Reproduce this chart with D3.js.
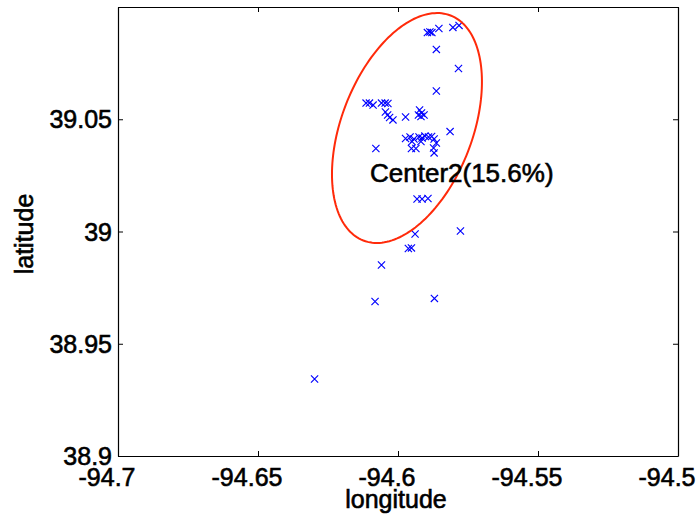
<!DOCTYPE html>
<html>
<head>
<meta charset="utf-8">
<script src="https://cdn.jsdelivr.net/npm/d3@7"></script>
<style>
  html, body { margin: 0; padding: 0; background: #fff; }
  svg text { font-family: "Liberation Sans", Arial, Helvetica, sans-serif; fill: #000; stroke: #000; stroke-width: 0.6px; }
</style>
</head>
<body>
<svg id="chart" width="699" height="520"></svg>
<script>
// Visit locations (longitude, latitude)
const longitudes = [
  -94.5895, -94.5886, -94.5879, -94.5854, -94.5804, -94.5782, -94.5863, -94.5784, -94.5863,
  -94.6114, -94.6102, -94.6089, -94.6059, -94.6046, -94.6036, -94.6045, -94.6037, -94.6030,
  -94.6018, -94.5973, -94.5923, -94.5916, -94.5927, -94.5907, -94.5918, -94.5814, -94.6079,
  -94.5973, -94.5957, -94.5943, -94.5925, -94.5914, -94.5904, -94.5891, -94.5880, -94.5871,
  -94.5863, -94.5873, -94.5871, -94.5950, -94.5918, -94.5952, -94.5936, -94.5932, -94.5914,
  -94.5893, -94.5939, -94.5777, -94.5963, -94.5952, -94.6059, -94.6082, -94.5870, -94.6298
];
const latitudes = [
  39.0886, 39.0889, 39.0886, 39.0904, 39.0909, 39.0918, 39.0811, 39.0726, 39.0626,
  39.0572, 39.0572, 39.0563, 39.0572, 39.0572, 39.0570, 39.0532, 39.0519, 39.0508,
  39.0497, 39.0510, 39.0541, 39.0528, 39.0519, 39.0519, 39.0512, 39.0445, 39.0370,
  39.0414, 39.0421, 39.0412, 39.0421, 39.0416, 39.0425, 39.0421, 39.0423, 39.0412,
  39.0394, 39.0372, 39.0350, 39.0401, 39.0401, 39.0370, 39.0370, 39.0145, 39.0145,
  39.0147, 38.9989, 39.0002, 38.9924, 38.9927, 38.9851, 38.9688, 38.9702, 38.9343
];

// Cluster ellipse: centre and the two semi-axis vectors (degrees)
const ellipseCenter = [-94.5968, 39.0461];
const ellipseAxisMajor = [0.01558, 0.05011];
const ellipseAxisMinor = [-0.02178, 0.01053];

// Cluster annotation
const clusterLabel = "Center2(15.6%)";
const clusterLabelPos = [-94.6100, 39.0220];

// Axes
const xDomain = [-94.7, -94.5];
const yDomain = [38.9, 39.1];
const xTicks = [-94.7, -94.65, -94.6, -94.55, -94.5];
const xTickLabels = ["-94.7", "-94.65", "-94.6", "-94.55", "-94.5"];
const yTicks = [38.9, 38.95, 39, 39.05];
const yTickLabels = ["38.9", "38.95", "39", "39.05"];
const xTitle = "longitude";
const yTitle = "latitude";

const svg = d3.select("#chart");
const plotLeft = 118, plotRight = 678, plotTop = 7, plotBottom = 456;

const x = d3.scaleLinear().domain(xDomain).range([plotLeft, plotRight]);
const y = d3.scaleLinear().domain(yDomain).range([plotBottom, plotTop]);

const points = longitudes.map((lon, i) => ({ lon, lat: latitudes[i] }));

// Points as blue crosses
const s = 3.6;
const marks = svg.append("g")
  .attr("stroke", "#0000ff")
  .attr("stroke-width", 1.15)
  .attr("fill", "none");
marks.selectAll("path")
  .data(points)
  .join("path")
  .attr("d", d => {
    const px = x(d.lon), py = y(d.lat);
    return `M${px - s},${py - s}L${px + s},${py + s}M${px - s},${py + s}L${px + s},${py - s}`;
  });

// Ellipse outline traced in data space
const ellipsePts = d3.range(0, 360, 2).map(deg => {
  const t = deg * Math.PI / 180;
  return [
    ellipseCenter[0] + ellipseAxisMajor[0] * Math.cos(t) + ellipseAxisMinor[0] * Math.sin(t),
    ellipseCenter[1] + ellipseAxisMajor[1] * Math.cos(t) + ellipseAxisMinor[1] * Math.sin(t)
  ];
});
svg.append("path")
  .datum(ellipsePts)
  .attr("fill", "none")
  .attr("stroke", "#ff2a0a")
  .attr("stroke-width", 2)
  .attr("d", d3.line().x(d => x(d[0])).y(d => y(d[1])).curve(d3.curveLinearClosed));

// Annotation
svg.append("text")
  .attr("x", x(clusterLabelPos[0]))
  .attr("y", y(clusterLabelPos[1]))
  .attr("font-size", 26)
  .text(clusterLabel);

// Box with inward ticks on all four sides
const tickLen = 5;
const axisG = svg.append("g");
axisG.append("g")
  .attr("transform", `translate(0,${plotBottom})`)
  .call(d3.axisBottom(x).tickValues(xTicks).tickSizeInner(-tickLen).tickSizeOuter(0).tickFormat(() => ""));
axisG.append("g")
  .attr("transform", `translate(0,${plotTop})`)
  .call(d3.axisTop(x).tickValues(xTicks).tickSizeInner(-tickLen).tickSizeOuter(0).tickFormat(() => ""));
axisG.append("g")
  .attr("transform", `translate(${plotLeft},0)`)
  .call(d3.axisLeft(y).tickValues(yTicks.concat([39.1])).tickSizeInner(-tickLen).tickSizeOuter(0).tickFormat(() => ""));
axisG.append("g")
  .attr("transform", `translate(${plotRight},0)`)
  .call(d3.axisRight(y).tickValues(yTicks.concat([39.1])).tickSizeInner(-tickLen).tickSizeOuter(0).tickFormat(() => ""));
axisG.selectAll("path.domain").attr("stroke", "#000").attr("stroke-width", 1.2);
axisG.selectAll(".tick line").attr("stroke", "#000").attr("stroke-width", 1);

// Tick labels
svg.append("g").selectAll("text")
  .data(xTicks)
  .join("text")
  .attr("x", d => x(d) - 11)
  .attr("y", 486)
  .attr("text-anchor", "middle")
  .attr("font-size", 25)
  .text((d, i) => xTickLabels[i]);

svg.append("g").selectAll("text")
  .data(yTicks)
  .join("text")
  .attr("x", plotLeft - 6)
  .attr("y", d => y(d) + 9)
  .attr("text-anchor", "end")
  .attr("font-size", 25)
  .text((d, i) => yTickLabels[i]);

// Axis titles
svg.append("text")
  .attr("x", 396)
  .attr("y", 508)
  .attr("text-anchor", "middle")
  .attr("font-size", 25)
  .text(xTitle);

svg.append("text")
  .attr("transform", `translate(33,234) rotate(-90)`)
  .attr("text-anchor", "middle")
  .attr("font-size", 25)
  .text(yTitle);
</script>
</body>
</html>
